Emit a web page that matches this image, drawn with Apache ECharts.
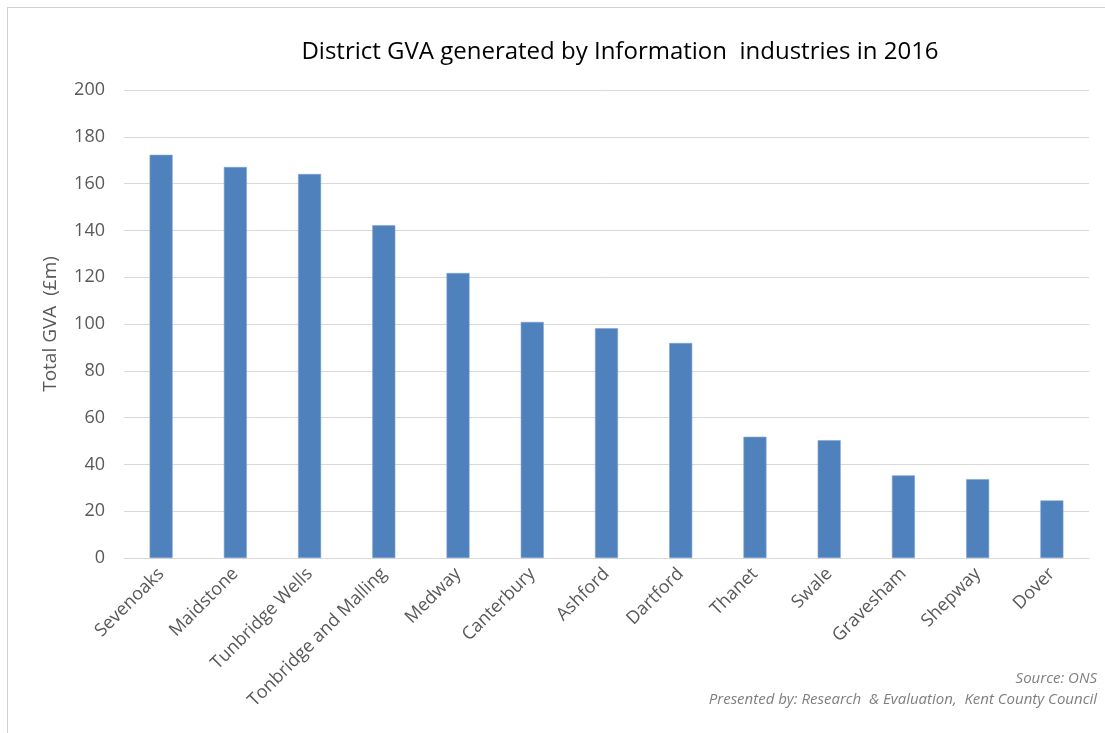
<!DOCTYPE html>
<html>
<head>
<meta charset="utf-8">
<script src="https://cdn.jsdelivr.net/npm/echarts@6/dist/echarts.min.js"></script>
<style>
  html, body { margin: 0; padding: 0; background: #ffffff; }
  #chart { width: 1105px; height: 733px; }
</style>
</head>
<body>
<div id="chart"></div>
<script>
// District GVA from Information industries, 2016 (£m)
const districts = ['Sevenoaks', 'Maidstone', 'Tunbridge Wells', 'Tonbridge and Malling', 'Medway',
  'Canterbury', 'Ashford', 'Dartford', 'Thanet', 'Swale', 'Gravesham', 'Shepway', 'Dover'];
const gva = [172.3, 167.1, 164.1, 142.2, 121.8, 100.9, 98.2, 91.9, 51.8, 50.3, 35.3, 33.7, 24.6];
const yTicks = { min: 0, max: 200, step: 20 };

const FONT = '"Open Sans", "Noto Sans", sans-serif';
const chart = echarts.init(document.getElementById('chart'), null, { renderer: 'canvas' });

chart.setOption({
  backgroundColor: '#ffffff',
  animation: false,
  title: {
    text: 'District GVA generated by Information  industries in 2016',
    left: 615,
    textAlign: 'center',
    top: 35,
    textStyle: { fontFamily: FONT, fontSize: 24, fontWeight: 'normal', color: '#000000' }
  },
  grid: { left: 124, right: 16, top: 90, bottom: 175 },
  xAxis: {
    type: 'category',
    data: districts,
    axisLine: { show: true, lineStyle: { color: '#d9d9d9', width: 1 } },
    axisTick: { show: false },
    axisLabel: {
      rotate: 45,
      interval: 0,
      margin: 13,
      fontFamily: FONT,
      fontSize: 18,
      color: '#595959'
    }
  },
  yAxis: {
    type: 'value',
    min: yTicks.min,
    max: yTicks.max,
    interval: yTicks.step,
    name: 'Total GVA  (£m)',
    nameLocation: 'middle',
    nameGap: 64,
    nameTextStyle: { fontFamily: FONT, fontSize: 19, color: '#595959' },
    axisLine: { show: false },
    axisTick: { show: false },
    axisLabel: { fontFamily: FONT, fontSize: 18, color: '#595959', margin: 19 },
    splitLine: { lineStyle: { color: '#d9d9d9', width: 1 } }
  },
  series: [{
    type: 'bar',
    data: gva,
    barWidth: '31%',
    itemStyle: { color: '#4f81bd', borderColor: '#7da3d3', borderWidth: 0.6 }
  }],
  graphic: [
    // frame edges along the top and left
    { type: 'line', shape: { x1: 7, y1: 7.5, x2: 1105, y2: 7.5 }, style: { stroke: '#d0d0d0', lineWidth: 1 } },
    { type: 'line', shape: { x1: 7.5, y1: 7, x2: 7.5, y2: 733 }, style: { stroke: '#d0d0d0', lineWidth: 1 } },
    {
      type: 'text', right: 8, top: 671,
      style: { text: 'Source: ONS', font: 'italic 15px ' + FONT, fill: '#7f7f7f', textAlign: 'right' }
    },
    {
      type: 'text', right: 8, top: 692,
      style: { text: 'Presented by: Research  & Evaluation,  Kent County Council', font: 'italic 15px ' + FONT, fill: '#7f7f7f', textAlign: 'right' }
    }
  ]
});
</script>
</body>
</html>
